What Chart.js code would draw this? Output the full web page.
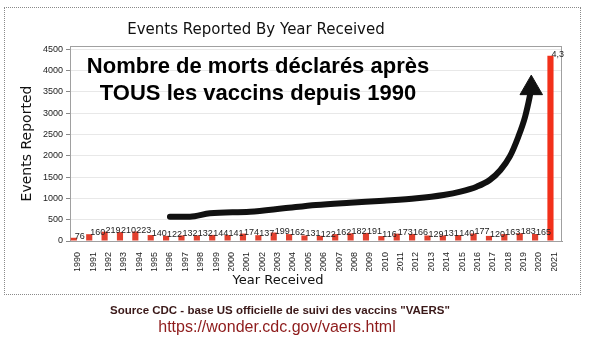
<!DOCTYPE html>
<html>
<head>
<meta charset="utf-8">
<script src="https://cdn.jsdelivr.net/npm/chart.js@4/dist/chart.umd.min.js"></script>
<style>
  html, body { margin: 0; padding: 0; background: #fff; }
  body { width: 592px; height: 343px; position: relative; overflow: hidden; }
  #frame { position: absolute; left: 4px; top: 7px; width: 577px; height: 288px; border: 1px dotted #8a8a8a; box-sizing: border-box; }
  #wrap { position: absolute; left: 0; top: 0; width: 592px; height: 343px; }
  .txt { position: absolute; white-space: nowrap; text-align: center; }
  #title { left: 56px; width: 400px; top: 20px; font: 15px "DejaVu Sans", sans-serif; color: #111; }
  #xtitle { left: 178px; width: 200px; top: 272px; font: 13px "DejaVu Sans", sans-serif; color: #111; }
  #overlay { left: 58px; width: 400px; top: 53px; font: bold 22px "Liberation Sans", Arial, sans-serif; line-height: 26.5px; color: #000; }
  #src { left: 80px; width: 400px; top: 304px; font: bold 11.5px "Liberation Sans", Arial, sans-serif; color: #3a1818; }
  #url { left: 77px; width: 400px; top: 318px; font: 16px "Liberation Sans", Arial, sans-serif; color: #8e1b1b; }
</style>
</head>
<body>
<div id="frame"></div>
<div id="wrap"><canvas id="c" width="592" height="343"></canvas></div>
<div class="txt" id="title">Events Reported By Year Received</div>
<div class="txt" id="xtitle">Year Received</div>
<div class="txt" id="overlay">Nombre de morts déclarés après<br>TOUS les vaccins depuis 1990</div>
<div class="txt" id="src">Source CDC - base US officielle de suivi des vaccins "VAERS"</div>
<div class="txt" id="url">https://wonder.cdc.gov/vaers.html</div>
<script>
// ---- data ----
const years = ['1990','1991','1992','1993','1994','1995','1996','1997','1998','1999','2000','2001','2002','2003','2004','2005','2006','2007','2008','2009','2010','2011','2012','2013','2014','2015','2016','2017','2018','2019','2020','2021'];
const deaths = [76,160,219,210,223,140,122,132,132,144,141,174,137,199,162,131,122,162,182,191,116,173,166,129,131,140,177,120,163,183,165,4350];
// hand-drawn arrow annotation path (x = year index, y = events)
const arrowX = [6.0, 7.3, 8.6, 11.2, 13.4, 15.5, 17.7, 19.9, 22.05, 23.8, 24.9, 25.95, 26.8, 27.5, 28.1, 28.66, 29.1, 29.4, 29.5];
const arrowY = [571, 571, 650, 688, 767, 846, 900, 947, 1003, 1081, 1159, 1276, 1433, 1668, 1980, 2450, 2920, 3390, 3590];
const yTicks = [0,500,1000,1500,2000,2500,3000,3500,4000,4500];

const barColors = deaths.map((v, i) => i === deaths.length - 1 ? '#f2301a' : '#e2402e');
const arrowData = arrowX.map((x, i) => ({ x: x, y: arrowY[i] }));
const arrowRadius = arrowX.map((x, i) => i === arrowX.length - 1 ? 13 : 0);

const valueLabels = {
  id: 'valueLabels',
  afterDatasetDraw(chart, args) {
    if (args.index !== 0) return;
    const { ctx, chartArea } = chart;
    ctx.save();
    ctx.beginPath();
    ctx.rect(0, 0, chartArea.right + 2, chart.height);
    ctx.clip();
    ctx.font = '9px "Liberation Sans", Arial, sans-serif';
    ctx.fillStyle = '#222';
    ctx.textAlign = 'left';
    ctx.textBaseline = 'alphabetic';
    args.meta.data.forEach((bar, i) => {
      ctx.fillText(deaths[i].toLocaleString('en-US'), bar.x + 1, bar.y + 1);
    });
    ctx.restore();
  }
};
const frame = {
  id: 'frame',
  beforeDatasetsDraw(chart) {
    const { ctx, chartArea: a } = chart;
    ctx.save();
    ctx.strokeStyle = '#a0a0a0';
    ctx.lineWidth = 1;
    ctx.strokeRect(a.left + 0.5, a.top + 0.5, a.right - a.left - 1, a.bottom - a.top);
    ctx.restore();
  }
};

new Chart(document.getElementById('c'), {
  type: 'bar',
  data: {
    labels: years,
    datasets: [
      { type: 'bar', data: deaths, backgroundColor: barColors, barPercentage: 0.8, categoryPercentage: 1, order: 2 },
      { type: 'line', data: arrowData, xAxisID: 'x2', borderColor: '#111', borderWidth: 6,
        borderCapStyle: 'round', borderJoinStyle: 'round', cubicInterpolationMode: 'monotone',
        pointRadius: arrowRadius, pointStyle: 'triangle', pointBackgroundColor: '#111', pointBorderColor: '#111',
        pointBorderWidth: 1, fill: false, order: 1 }
    ]
  },
  options: {
    responsive: false,
    animation: false,
    events: [],
    layout: { padding: { left: 0, top: 46, right: 30, bottom: 72 } },
    plugins: { legend: { display: false }, title: { display: false }, tooltip: { enabled: false } },
    scales: {
      x: {
        type: 'category',
        grid: { display: false },
        border: { color: '#999' },
        ticks: { minRotation: 90, maxRotation: 90, autoSkip: false, padding: 3, color: '#222',
                 font: { family: '"Liberation Sans", Arial, sans-serif', size: 9 } },
        afterFit(s) { s.height = 30; }
      },
      x2: { type: 'linear', display: false, offset: false, min: -0.5, max: 31.5 },
      y: {
        min: 0, max: 4580,
        afterBuildTicks(s) { s.ticks = yTicks.map(v => ({ value: v })); },
        grid: { color: '#e8e8e8', tickLength: 4, tickColor: '#888' },
        border: { color: '#888' },
        ticks: { padding: 3, color: '#222', callback: (v) => String(v),
                 font: { family: '"Liberation Sans", Arial, sans-serif', size: 9 } },
        title: { display: true, text: 'Events Reported', color: '#111', padding: { top: 19, bottom: 0 },
                 font: { family: '"DejaVu Sans", sans-serif', size: 14 } },
        afterFit(s) { s.width = 70; }
      }
    }
  },
  plugins: [valueLabels, frame]
});
</script>
</body>
</html>
